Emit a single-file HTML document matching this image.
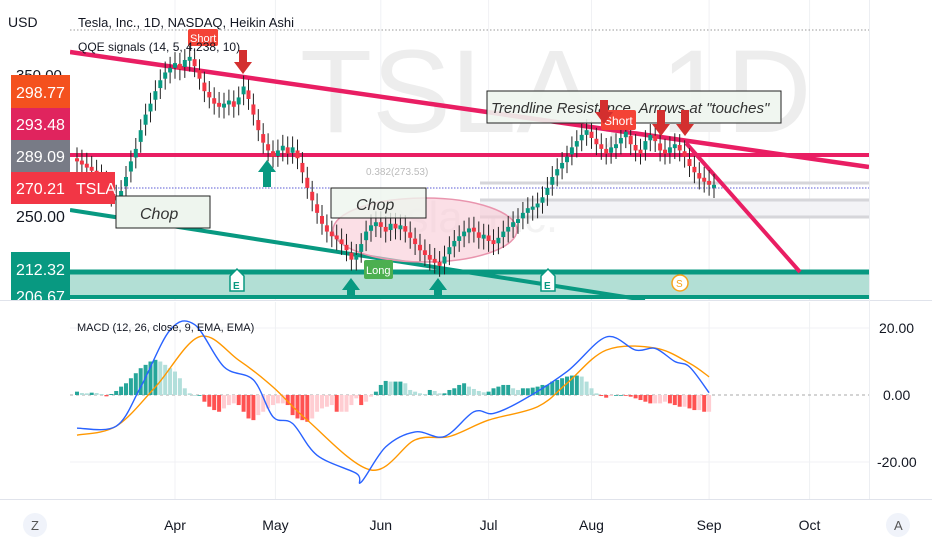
<!DOCTYPE html>
<html><head><meta charset="utf-8"><style>
html,body{margin:0;padding:0;background:#fff;width:932px;height:550px;overflow:hidden;font-family:"Liberation Sans",sans-serif}
svg{display:block}
text{font-family:"Liberation Sans",sans-serif}
</style></head><body>
<svg id="chart" width="932" height="550" viewBox="0 0 932 550" xmlns="http://www.w3.org/2000/svg">
<g id="grid"></g>
<g>
<text x="300" y="132" font-size="118" fill="#ededed">TSLA, 1D</text>
<text x="360" y="232" font-size="44" fill="#f3f3f3">Tesla, Inc.</text>
</g>
<line x1="70" y1="30" x2="869" y2="30" stroke="#999" stroke-dasharray="1.5,2"/>
<rect x="480" y="200" width="389" height="17" fill="#f3f3f6"/>
<line x1="480" y1="183" x2="869" y2="183" stroke="#d6d6da" stroke-width="3"/>
<line x1="480" y1="200" x2="869" y2="200" stroke="#d6d6da" stroke-width="3"/>
<line x1="480" y1="217" x2="869" y2="217" stroke="#d6d6da" stroke-width="3"/>
<text x="366" y="175" font-size="10" fill="#bbb">0.382(273.53)</text>
<rect x="70" y="272" width="799" height="25" fill="#b2dfd5"/>
<line x1="70" y1="272" x2="869" y2="272" stroke="#089981" stroke-width="5"/>
<line x1="70" y1="297" x2="869" y2="297" stroke="#089981" stroke-width="4"/>
<line x1="70" y1="210" x2="645" y2="300" stroke="#089981" stroke-width="4"/>
<ellipse cx="425" cy="230" rx="92" ry="32" fill="#f8c9d6" fill-opacity="0.6" stroke="#e995ae" stroke-width="1.5"/>
<line x1="70" y1="188" x2="869" y2="188" stroke="#5b5bd6" stroke-dasharray="1.5,1.5"/>
<line x1="70" y1="155" x2="869" y2="155" stroke="#e91e63" stroke-width="4"/>
<line x1="70" y1="52" x2="869" y2="167" stroke="#e91e63" stroke-width="4.5"/>
<line x1="686" y1="143" x2="800" y2="272" stroke="#e91e63" stroke-width="4"/>
<g id="candles"></g>
<rect x="116" y="196" width="94" height="32" fill="#eef5ee" stroke="#222" stroke-width="1"/>
<text x="140" y="219" font-size="16" font-style="italic" fill="#333">Chop</text>
<rect x="331" y="188" width="95" height="30" fill="#eef5ee" fill-opacity="0.8" stroke="#222"/>
<text x="356" y="210" font-size="16" font-style="italic" fill="#333">Chop</text>
<rect x="487" y="91" width="294" height="32" fill="#eef5ee" fill-opacity="0.9" stroke="#222"/>
<text x="491" y="113" font-size="15" font-style="italic" fill="#333">Trendline Resistance. Arrows at "touches"</text>
<g>
<rect x="188" y="29" width="30" height="17" rx="2" fill="#f44336"/>
<text x="190" y="42" font-size="11" fill="#fff">Short</text>
<rect x="601" y="110" width="35" height="20" rx="2" fill="#f44336"/>
<text x="604" y="125" font-size="12" fill="#fff">Short</text>
<rect x="364" y="260" width="29" height="19" rx="2" fill="#4caf50"/>
<text x="366" y="274" font-size="11" fill="#fff">Long</text>
<path d="M239,50h8v12h5l-9,12l-9,-12h5z" fill="#d32f2f"/>
<path d="M600,100h8v12h5l-9,12l-9,-12h5z" fill="#d32f2f"/>
<path d="M657,110h8v14h5l-9,12l-9,-12h5z" fill="#d32f2f"/>
<path d="M681,110h8v14h5l-9,12l-9,-12h5z" fill="#d32f2f"/>
<path d="M267,160l9,12h-5v15h-8v-15h-5z" fill="#089981"/>
<path d="M351,278l9,12h-5v8h-8v-8h-5z" fill="#089981"/>
<path d="M438,278l9,12h-5v8h-8v-8h-5z" fill="#089981"/>
<path d="M230,276l7,-7l7,7v15h-14z" fill="#fff" stroke="#089981" stroke-width="1.5"/>
<text x="233" y="289" font-size="10" fill="#089981" font-weight="bold">E</text>
<path d="M541,276l7,-7l7,7v15h-14z" fill="#fff" stroke="#089981" stroke-width="1.5"/>
<text x="544" y="289" font-size="10" fill="#089981" font-weight="bold">E</text>
<circle cx="680" cy="283" r="8" fill="#fff" stroke="#f7a21b" stroke-width="1.5"/>
<text x="676" y="287" font-size="10" fill="#f7a21b">S</text>
</g>
<text x="78" y="27" font-size="13" fill="#131722">Tesla, Inc., 1D, NASDAQ, Heikin Ashi</text>
<text x="78" y="51" font-size="12" fill="#131722">QQE signals (14, 5, 4.238, 10)</text>
<rect x="0" y="0" width="70" height="300" fill="#fff"/>
<text x="8" y="27" font-size="14" fill="#131722">USD</text>
<text x="16" y="80" font-size="15" fill="#131722">350.00</text>
<rect x="11" y="75" width="59" height="33" fill="#f4511e"/>
<text x="16" y="98" font-size="16" fill="#fff">298.77</text>
<rect x="11" y="108" width="59" height="32" fill="#e0245e"/>
<text x="16" y="130" font-size="16" fill="#fff">293.48</text>
<rect x="11" y="140" width="59" height="32" fill="#787b86"/>
<text x="16" y="162" font-size="16" fill="#fff">289.09</text>
<rect x="11" y="172" width="59" height="32" fill="#f23645"/>
<text x="16" y="194" font-size="16" fill="#fff">270.21</text>
<rect x="70" y="172" width="45" height="32" fill="#f23645"/>
<text x="76" y="194" font-size="16" fill="#fff">TSLA</text>
<text x="16" y="222" font-size="16" fill="#131722">250.00</text>
<rect x="11" y="252" width="59" height="33" fill="#089981"/>
<text x="16" y="275" font-size="16" fill="#fff">212.32</text>
<rect x="11" y="285" width="59" height="15" fill="#089981"/>
<text x="16" y="302" font-size="16" fill="#fff">206.67</text>
<rect x="0" y="300" width="932" height="2" fill="#fff"/>
<line x1="0" y1="300.5" x2="932" y2="300.5" stroke="#e0e3eb"/>
<line x1="869.5" y1="0" x2="869.5" y2="500" stroke="#eceef2"/>
<g id="macd"></g>
<text x="77" y="331" font-size="11" fill="#131722">MACD (12, 26, close, 9, EMA, EMA)</text>
<text x="879" y="333" font-size="14" fill="#131722">20.00</text>
<text x="883" y="400" font-size="14" fill="#131722">0.00</text>
<text x="877" y="467" font-size="14" fill="#131722">-20.00</text>
<line x1="0" y1="499.5" x2="932" y2="499.5" stroke="#e0e3eb"/>
<g id="timeaxis"></g>
<circle cx="35" cy="525" r="12" fill="#f0f3fa"/>
<text x="31" y="530" font-size="13" fill="#555">Z</text>
<circle cx="898" cy="525" r="12" fill="#f0f3fa"/>
<text x="894" y="530" font-size="13" fill="#555">A</text>
</svg>
<script>
const closes=[285,283,281,279,276,273,268,263,260,266,275,285,293,305,315,322,330,337,342,345,348,344,350,352,346,338,330,326,322,320,322,324,320,326,333,325,315,305,297,292,288,292,295,290,294,287,278,268,260,252,245,240,237,235,232,228,222,225,232,240,244,246,243,240,245,242,244,240,236,232,228,225,222,220,218,224,230,234,237,240,242,240,236,238,234,232,236,240,243,246,248,252,255,256,258,262,268,275,280,284,288,294,298,302,305,300,296,293,290,294,296,300,304,296,292,290,298,302,298,292,290,294,296,292,288,282,278,274,272,270,270];
const histValues=[1,0.6,0.5,0.7,0.6,0.3,-0.4,0.3,1.2,2.5,3.5,5,6.5,8,9,10,10.5,10,9,8,7,5,2,0.5,0,0,-2,-3.5,-4.5,-5,-4,-3,-2.5,-3,-5,-7,-7.5,-6,-5,-4,-3,-2.5,-2.5,-3,-6,-7,-7.5,-8,-7,-5,-4,-3.5,-3,-5,-5,-5,-3,-1,-3,-2,-0.5,1,3,4.2,4,4,4,3.5,1.5,1,0.5,0.3,1.5,1.2,0.5,0.5,1.5,2,3,3.5,2.5,1.8,1.2,0.8,1,2,2.5,3,3,2,1.5,2,2,2.2,2.5,3,3,4,4.5,5,5.5,5.8,5.8,5.5,4,2,0.5,-0.3,-0.8,-0.3,0,0,-0.2,-0.5,-1,-1.5,-2,-2.5,-2.5,-2.5,-2,-2.5,-3,-3.5,-3.5,-4,-4.5,-4.5,-5,-5];
const macdIdx=[0,8,13,19,24,30,36,40,44,49,57,58,63,69,75,81,85,91,100,108,114,118,122,125,129];
const macdVals=[-9.9,-9.3,2.4,19.4,21,8.4,4.5,-6.5,-8.5,-18,-23.4,-26,-15.5,-11,-12.4,-5,-5.5,-1.5,7,17.3,13.4,13.9,10,8.4,0.7];
const sigIdx=[0,8,16,25,33,40,47,60,69,76,84,94,100,108,118,125,129];
const sigVals=[-12,-9.3,2.4,17.4,10.4,2.4,-7.5,-22.4,-13.4,-12.4,-7.5,-3.5,3.5,13.4,14,9.5,5.4];
const months=["Apr","May","Jun","Jul","Aug","Sep","Oct"];
const monthIdx=[20,40.5,62,84,105,129,149.5];

const NS="http://www.w3.org/2000/svg";
function mk(tag,attrs,parent){const e=document.createElementNS(NS,tag);for(const k in attrs)e.setAttribute(k,attrs[k]);parent.appendChild(e);return e;}
const xOf=i=>77+i*4.9;
const yP=p=>155+(289.09-p)*1.56;
const yM=v=>395-v*3.35;

const grid=document.getElementById('grid');
monthIdx.forEach((mi,k)=>{
  const l=mk('line',{x1:xOf(mi),x2:xOf(mi),y1:0,y2:500,stroke:'#f0f1f4'},grid);
  
  
});
[20,-20].forEach(v=>{
  const l=mk('line',{x1:70,x2:869,y1:yM(v),y2:yM(v),stroke:'#f0f1f4'},grid);
  
  
});

const cg=document.getElementById('candles');
closes.forEach((c,i)=>{
  const o=i===0?c+2:(closes[i-1]+c)/2+(closes[i-1]>c?1.5:-1.5);
  const up=c>=(i===0?c+1:closes[i-1]);
  const col=up?'#089981':'#f23645';
  const hi=Math.max(o,c)+7,lo=Math.min(o,c)-7;
  const w=mk('line',{x1:xOf(i),x2:xOf(i),y1:yP(hi),y2:yP(lo),stroke:'#222','stroke-width':1},cg);
  
  
  const top=yP(Math.max(o,c)),bot=yP(Math.min(o,c));
  const r=mk('rect',{x:xOf(i)-2,y:top,width:4,height:Math.max(3,bot-top),fill:col},cg);
  
  
});

const mg=document.getElementById('macd');
const z=mk('line',{x1:70,x2:869,y1:yM(0),y2:yM(0),stroke:'#aaa','stroke-dasharray':'3,3'},mg);


histValues.forEach((v,i)=>{
  const prev=i===0?0:histValues[i-1];
  let col;
  if(v>=0)col=v>=prev?'#26a69a':'#b2dfdb';else col=v<prev?'#ff5252':'#ffcdd2';
  const y0=yM(0),y1=yM(v);
  const r=mk('rect',{x:xOf(i)-2,y:Math.min(y0,y1),width:4,height:Math.max(0.8,Math.abs(y1-y0)),fill:col},mg);
  
  
});
function line(idx,vals,col,name){
  const P=idx.map((i,k)=>[xOf(i),yM(vals[k])]);
  let d='M'+P[0][0].toFixed(1)+','+P[0][1].toFixed(1);
  for(let k=0;k<P.length-1;k++){
    const p0=P[Math.max(0,k-1)],p1=P[k],p2=P[k+1],p3=P[Math.min(P.length-1,k+2)];
    const c1=[p1[0]+(p2[0]-p0[0])/6,p1[1]+(p2[1]-p0[1])/6];
    const c2=[p2[0]-(p3[0]-p1[0])/6,p2[1]-(p3[1]-p1[1])/6];
    d+='C'+c1[0].toFixed(1)+','+c1[1].toFixed(1)+' '+c2[0].toFixed(1)+','+c2[1].toFixed(1)+' '+p2[0].toFixed(1)+','+p2[1].toFixed(1);
  }
  const p=mk('path',{d:d,fill:'none',stroke:col,'stroke-width':1.4,'stroke-linejoin':'round'},mg);
  
  
}
line(sigIdx,sigVals,'#ff9800','signal-line');
line(macdIdx,macdVals,'#2962ff','macd-line');

const ta=document.getElementById('timeaxis');
months.forEach((m,k)=>{
  const t=mk('text',{x:xOf(monthIdx[k]),y:530,'font-size':14,'text-anchor':'middle',fill:'#131722'},ta);
  t.textContent=m;
  
  
});
</script>
</body></html>
